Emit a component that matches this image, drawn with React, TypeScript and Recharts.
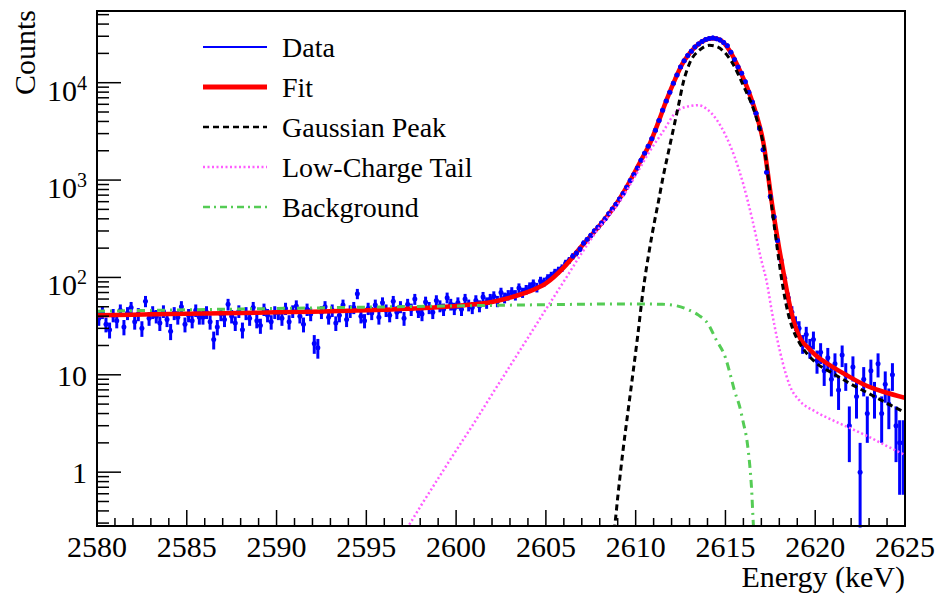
import React from "react";
import {
  ComposedChart,
  ErrorBar,
  Line,
  ReferenceArea,
  Scatter,
  XAxis,
  YAxis,
} from "recharts";

const FONT = "Liberation Serif, Tinos, Times New Roman, DejaVu Serif, serif";

// plot frame (px) used by the custom tick marks
const PLOT_LEFT = 97;
const PLOT_BOTTOM = 526;

// histogram, 0.2 keV bins from 2580 keV
const BIN_LO = 2580;
const BIN_W = 0.2;
const COUNTS = [
  38, 44, 33, 29, 41, 36, 46, 31, 43, 49, 35, 42, 30, 57, 38, 44, 40, 34, 45, 37, 28, 43, 39, 50, 33,
  41, 36, 46, 39, 39, 44, 35, 23, 31, 42, 37, 53, 40, 34, 45, 29, 43, 38, 49, 36, 32, 47, 41, 35, 44,
  43, 38, 48, 35, 45, 51, 40, 33, 47, 42, 21, 19, 44, 50, 39, 46, 34, 41, 52, 37, 45, 49, 68, 40, 36,
  48, 43, 52, 39, 55, 46, 41, 57, 44, 50, 38, 53, 47, 60, 45, 42, 56, 49, 44, 58, 51, 47, 62, 53, 48,
  55, 47, 60, 52, 49, 58, 51, 63, 55, 60, 64, 57, 70, 62, 66, 71, 66, 78, 70, 75, 80, 86, 79, 92, 90,
  98, 104, 112, 118, 125, 140, 150, 165, 178, 196, 225, 245, 270, 300, 328, 362, 400, 450, 505, 565,
  640, 730, 845, 990, 1140,
  1330, 1600, 1880, 2220, 2650, 3250, 4100, 5200, 6500, 8000, 9900, 12000, 14500, 16800, 19000,
  21000, 23200, 25000, 26500, 27700, 28400, 28700, 28300, 27400, 25800,
  24000, 20500, 17300, 14500, 12500, 10200, 8000, 6300, 4850, 3400, 2050, 1200, 680, 420, 240,
  150, 98, 62, 44, 34, 30, 21, 26, 19, 23,
  14, 17, 11, 15, 9, 13, 7, 16, 10, 3, 12, 6, 1, 9, 4, 11, 6, 13, 4, 8, 5, 10, 3, 2, 2,
];

const FIT_E = [
  2580, 2582, 2584, 2586, 2588, 2590, 2592, 2594, 2596, 2598, 2599, 2600, 2601, 2602, 2603, 2604,
  2605, 2606, 2607, 2608, 2609, 2609.7, 2610.3, 2610.8, 2611.3, 2611.7, 2612.2, 2612.6, 2613.0,
  2613.5, 2614.0, 2614.3, 2614.7, 2615.2, 2615.8, 2616.2, 2616.7, 2617.1, 2617.6, 2618.0, 2618.3,
  2618.6, 2618.9, 2619.2, 2619.6, 2620, 2620.9, 2621.8, 2622.8, 2623.8, 2625,
];
const FIT_V = [
  41, 41.5, 42, 42.6, 43.2, 43.8, 44.5, 45.4, 46.6, 48.2, 49.5, 51, 53, 56, 62, 71,
  87, 127, 210, 343, 600, 990, 1600, 2390, 4100, 6500, 10900, 15600, 20000,
  25000, 28000, 28600, 27600, 21800, 13400, 9000, 4850, 2500, 560, 195, 96,
  50, 31, 23, 19, 16, 12.3, 9.8, 7.8, 6.7, 5.8,
];

const GAUSS_E = [
  2608.7, 2608.85, 2609.0, 2609.3, 2609.6, 2609.85, 2610.1, 2610.4, 2610.75, 2611.1, 2611.25,
  2611.53, 2611.81, 2612.09, 2612.37, 2612.64, 2613.0, 2613.57, 2614.1, 2614.5, 2614.9, 2615.4,
  2616.0, 2616.7, 2617.2, 2617.6, 2617.9, 2618.2, 2618.5, 2618.8, 2619.14, 2619.6, 2620.1, 2621,
  2621.9, 2623, 2624, 2625,
];
const GAUSS_V = [
  0.2, 0.3, 0.55, 1.7, 4.6, 10.4, 24, 70, 185, 420, 578,
  1084, 1885, 3270, 5670, 9860, 15800, 21700, 24200, 23500, 21000, 15800,
  9300, 4500, 1900, 500, 190, 80, 42, 28, 21, 16, 13, 10.3,
  8.2, 6.4, 5.1, 4.1,
];

const TAIL_E = [
  2597.0, 2598, 2599, 2600, 2601, 2602, 2603, 2604, 2605, 2606, 2607, 2608, 2609, 2610, 2610.8,
  2611.5, 2612.3, 2613.0, 2613.5, 2614.0, 2614.5, 2615.0, 2615.5, 2616.0, 2616.5, 2617.0, 2617.3,
  2617.6, 2618.2, 2618.6, 2619.1, 2620, 2621, 2622, 2623, 2624, 2625,
];
const TAIL_V = [
  0.22, 0.44, 0.86, 1.67, 3.2, 6.3, 12.3, 24, 47, 91, 178, 330, 560, 1120, 2000,
  3100, 5100, 5750, 5870, 5300, 4200, 2900, 1750, 900, 390, 150, 90,
  43, 13.1, 7.6, 5.5, 4.2, 3.4, 2.8, 2.3, 1.85, 1.5,
];

const BKG_E = [
  2580, 2585, 2590, 2595, 2600, 2605, 2610, 2611.5, 2612.3, 2613.0, 2613.5, 2614.0, 2614.5,
  2615.0, 2615.25, 2615.5, 2615.8, 2616.0, 2616.2, 2616.35, 2616.45, 2616.55, 2616.62,
];
const BKG_V = [
  45, 46.5, 48, 49.5, 51, 52.5, 53.5, 53, 51, 46, 41, 34, 22.6,
  15, 10.4, 6.9, 4.65, 3.2, 2.1, 1.2, 0.7, 0.3, 0.18,
];

const X_LABELS = [2580, 2585, 2590, 2595, 2600, 2605, 2610, 2615, 2620, 2625];
const X_TICKS = Array.from({ length: 46 }, (_, i) => 2580 + i);
const Y_DECADES = [0.1, 1, 10, 100, 1000, 10000];
const Y_MIN = 0.28;
const Y_MAX = 54500;
const Y_TICKS = Y_DECADES.flatMap((d) => [1, 2, 3, 4, 5, 6, 7, 8, 9].map((m) => d * m)).filter(
  (v) => v >= Y_MIN && v <= Y_MAX
);

const hist = COUNTS.map((n, i) => ({
  e: BIN_LO + BIN_W * (i + 0.5),
  n,
  err: [Math.min(Math.sqrt(n), n - 0.27), Math.sqrt(n)],
}));
// markers redrawn over the fit where the peak is
const peakHist = hist.filter((d) => d.n > 150);
const curve = (es: number[], vs: number[]) => es.map((e, i) => ({ e, v: vs[i] }));
const fit = curve(FIT_E, FIT_V);
const gauss = curve(GAUSS_E, GAUSS_V);
const tail = curve(TAIL_E, TAIL_V);
const bkg = curve(BKG_E, BKG_V);

const txt = { fontFamily: FONT, fill: "#000" };

const XTick = (props: any) => {
  const { x, payload } = props;
  const major = X_LABELS.includes(payload.value);
  return (
    <g>
      <line x1={x} x2={x} y1={PLOT_BOTTOM} y2={PLOT_BOTTOM - (major ? 16 : 8)} stroke="#000" strokeWidth={1.5} />
      {major && (
        <text x={x} y={PLOT_BOTTOM + 31} textAnchor="middle" fontSize={30} style={txt}>
          {payload.value}
        </text>
      )}
    </g>
  );
};

const YTick = (props: any) => {
  const { y, payload } = props;
  const p = Math.log10(payload.value);
  const major = Math.abs(p - Math.round(p)) < 1e-6;
  const pw = Math.round(p);
  return (
    <g>
      <line x1={PLOT_LEFT} x2={PLOT_LEFT + (major ? 24 : 12)} y1={y} y2={y} stroke="#000" strokeWidth={1.5} />
      {major && pw <= 1 && (
        <text x={87} y={y + 11} textAnchor="end" fontSize={30} style={txt}>
          {pw === 0 ? "1" : "10"}
        </text>
      )}
      {major && pw > 1 && (
        <text x={87} y={y + 18} textAnchor="end" fontSize={30} style={txt}>
          <tspan>10</tspan>
          <tspan dy={-11} fontSize={20}>
            {pw}
          </tspan>
        </text>
      )}
    </g>
  );
};

const LEGEND = [
  { label: "Data", stroke: "#0000ff", w: 2, dash: undefined },
  { label: "Fit", stroke: "#ff0000", w: 5, dash: undefined },
  { label: "Gaussian Peak", stroke: "#000000", w: 2.5, dash: "6 4" },
  { label: "Low-Charge Tail", stroke: "#ff5cff", w: 2.5, dash: "2 2.5" },
  { label: "Background", stroke: "#55cc55", w: 2.5, dash: "7 4 2 4" },
];

const dot = (p: any) => <circle cx={p.cx} cy={p.cy} r={2.5} fill="#0000ff" />;

export default function App() {
  return (
    <div
      style={{
        position: "absolute",
        left: 0,
        top: 0,
        width: 940,
        height: 597,
        background: "#fff",
        fontFamily: FONT,
      }}
    >
      <ComposedChart width={940} height={597} margin={{ top: 11, right: 35, bottom: 11, left: 7 }}>
        <XAxis
          dataKey="e"
          type="number"
          domain={[2580, 2625]}
          ticks={X_TICKS}
          interval={0}
          allowDataOverflow
          axisLine={false}
          tickLine={false}
          height={60}
          tick={(p: any) => <XTick {...p} />}
        />
        <YAxis
          type="number"
          scale="log"
          domain={[Y_MIN, Y_MAX]}
          ticks={Y_TICKS}
          interval={0}
          allowDataOverflow
          axisLine={false}
          tickLine={false}
          width={90}
          tick={(p: any) => <YTick {...p} />}
        />
        <Scatter data={hist} dataKey="n" shape={dot} isAnimationActive={false} zIndex={500}>
          <ErrorBar dataKey="err" direction="y" width={0} stroke="#0000ff" strokeWidth={3} isAnimationActive={false} />
        </Scatter>
        <Line data={fit} dataKey="v" type="monotone" stroke="#ff0000" strokeWidth={4.5} dot={false} isAnimationActive={false} zIndex={510} />
        <Scatter data={peakHist} dataKey="n" shape={dot} isAnimationActive={false} zIndex={520} />
        <Line data={bkg} dataKey="v" type="monotone" stroke="#55cc55" strokeWidth={3} strokeDasharray="8 5 2 5" dot={false} isAnimationActive={false} zIndex={530} />
        <Line data={tail} dataKey="v" type="monotone" stroke="#ff5cff" strokeWidth={2.5} strokeDasharray="2 2.5" dot={false} isAnimationActive={false} zIndex={540} />
        <Line data={gauss} dataKey="v" type="monotone" stroke="#000000" strokeWidth={3} strokeDasharray="6 4" dot={false} isAnimationActive={false} zIndex={550} />
        <ReferenceArea x1={2580} x2={2625} y1={Y_MIN} y2={Y_MAX} fill="none" stroke="#000" strokeWidth={2} ifOverflow="visible" zIndex={600} />
      </ComposedChart>
      <svg width={940} height={597} style={{ position: "absolute", left: 0, top: 0, pointerEvents: "none" }}>
        {LEGEND.map((d, i) => {
          const y = 47 + i * 40;
          return (
            <g key={d.label}>
              <line x1={203} x2={267} y1={y} y2={y} stroke={d.stroke} strokeWidth={d.w} strokeDasharray={d.dash} />
              <text x={282} y={y + 10} fontSize={28} style={txt}>
                {d.label}
              </text>
            </g>
          );
        })}
        <text x={905} y={587} textAnchor="end" fontSize={30} style={txt}>
          Energy (keV)
        </text>
        <text x={35} y={10} textAnchor="end" transform="rotate(-90 35 10)" fontSize={30} style={txt}>
          Counts
        </text>
      </svg>
    </div>
  );
}
